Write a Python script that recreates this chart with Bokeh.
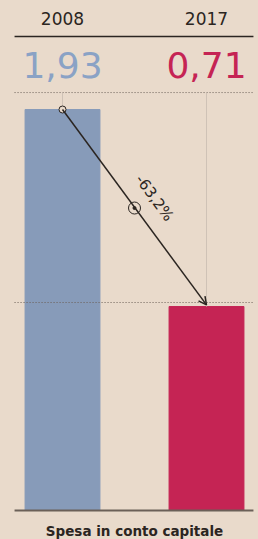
from bokeh.plotting import figure
from bokeh.models import Label, Arrow, OpenHead, ColumnDataSource
from bokeh.embed import file_html
from bokeh.resources import INLINE
import math

years = ["2008", "2017"]
values = [1.93, 0.71]
value_labels = ["1,93", "0,71"]
change_label = "-63,2%"
title = "Spesa in conto capitale"
bar_colors = ["#879bb9", "#c52454"]
label_colors = ["#8aa2c5", "#c52454"]

BG = "#e9dacb"
DARK = "#2b2521"
FONT = "DejaVu Sans"

xs = [0, 1]
p = figure(width=258, height=539, output_backend="svg", toolbar_location=None,
           x_range=(-0.4306, 1.3611), y_range=(-0.7325, 2.605),
           x_axis_type=None, y_axis_type=None, min_border=0)
p.background_fill_color = BG
p.border_fill_color = BG
p.outline_line_color = None
p.grid.visible = False

base = -0.553
x_left, x_right = -0.333, 1.326

# bars
src = ColumnDataSource(dict(x=xs, top=values, color=bar_colors))
p.vbar(x="x", top="top", bottom=base, width=0.52, color="color", source=src)

# dotted guide lines
top_guide = max(values) + 0.105
p.line([x_left, x_right], [top_guide, top_guide], line_color="#6b5f57",
       line_dash="1 2", line_width=1)
p.line([x_left, x_right], [values[1] + 0.025, values[1] + 0.025], line_color="#6b5f57",
       line_dash="1 2", line_width=1)

# thin vertical guides
for xi, v in zip(xs, values):
    p.line([xi, xi], [top_guide, v], line_color="#cfc2b6", line_width=1)

# baseline
p.line([x_left, x_right], [base, base], line_color="#6b6058", line_width=2)

# header line
hdr_y_data = (420.7 - 36) / 161.5
p.line([x_left, x_right], [hdr_y_data, hdr_y_data], line_color=DARK, line_width=1.5)

# header labels and values
for xi, yr, vl, c in zip(xs, years, value_labels, label_colors):
    p.add_layout(Label(x=xi, y=521, y_units="screen", text=yr, text_align="center",
                       text_baseline="middle", text_font=FONT, text_font_size="17px",
                       text_color=DARK))
    p.add_layout(Label(x=xi, y=475, y_units="screen", text=vl, text_align="center",
                       text_baseline="middle", text_font=FONT, text_font_size="36px",
                       text_color=c))

# arrow
p.add_layout(Arrow(x_start=xs[0], y_start=values[0], x_end=xs[1], y_end=values[1] + 0.01,
                   line_color=DARK, line_width=1.5,
                   end=OpenHead(size=8, line_color=DARK, line_width=1.5)))
p.scatter([xs[0]], [values[0]], size=7, fill_color=BG, line_color=DARK, line_width=1)
mx, my = (xs[0] + xs[1]) / 2, (values[0] + values[1]) / 2
p.scatter([mx], [my], size=12, fill_color=BG, line_color=DARK, line_width=1)
p.scatter([mx], [my], size=3, fill_color=DARK, line_color=DARK)

ang = -math.atan2(197, 143)
p.add_layout(Label(x=mx, y=my, x_offset=20, y_offset=10, text=change_label,
                   angle=ang, text_align="center", text_baseline="middle",
                   text_font=FONT, text_font_size="15px", text_color=DARK))

# title
p.add_layout(Label(x=0.5, y=9, y_units="screen", text=title, text_align="center",
                   text_baseline="middle", text_font=FONT, text_font_style="bold",
                   text_font_size="13.5px", text_color=DARK))

html = file_html(p, INLINE)
html = html.replace("</head>", "<style>body{background:%s;}</style></head>" % BG, 1)
open("out.html", "w").write(html)
